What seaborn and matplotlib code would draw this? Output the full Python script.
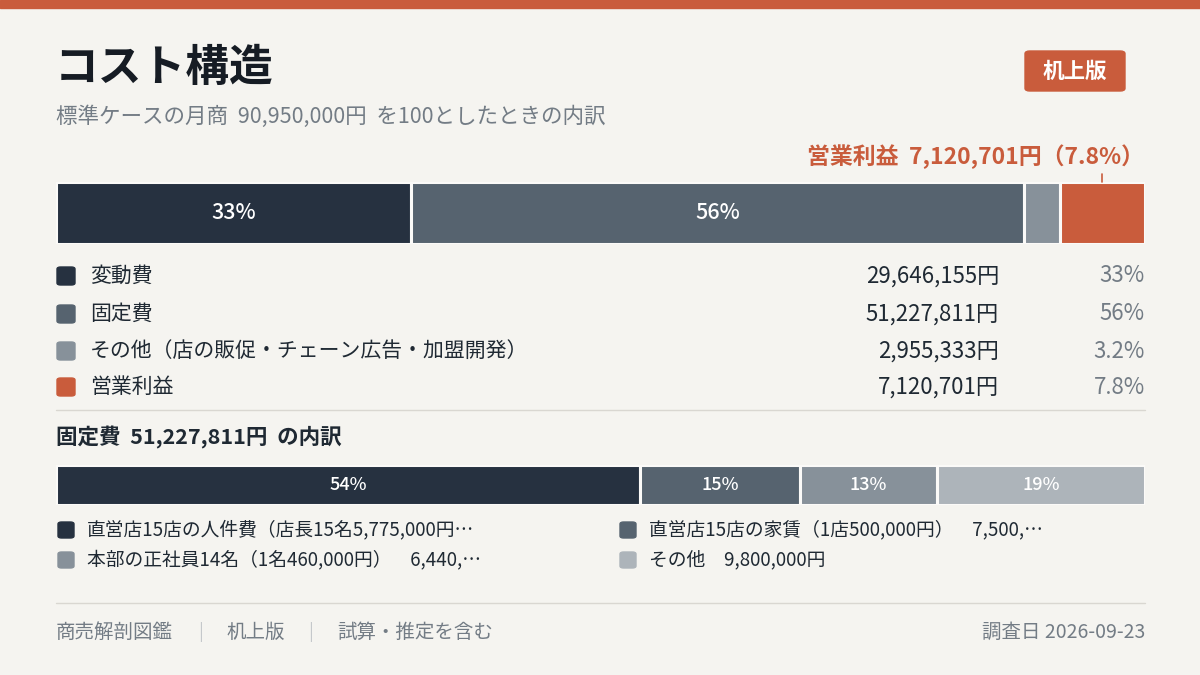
import numpy as np
import pandas as pd
import matplotlib
matplotlib.use("Agg")
import matplotlib.pyplot as plt
import seaborn as sns
from matplotlib.patches import FancyBboxPatch, Rectangle

# --- data ---
sales_total = 90950000
main_labels = ["変動費", "固定費", "その他（店の販促・チェーン広告・加盟開発）", "営業利益"]
main_values = [29646155, 51227811, 2955333, 7120701]
main_colors = ["#263140", "#56636f", "#87919a", "#c95c3c"]

fixed_total = 51227811
sub_labels = ["直営店15店の人件費（店長15名5,775,000円…",
              "直営店15店の家賃（1店500,000円）　7,500,…",
              "本部の正社員14名（1名460,000円）　6,440,…",
              "その他　9,800,000円"]
sub_values = [27487811, 7500000, 6440000, 9800000]
sub_colors = ["#263140", "#56636f", "#87919a", "#adb4ba"]

BG = "#f5f4f0"
ORANGE = "#c95c3c"
DARK = "#1f2933"
GREY = "#737c85"

sns.set_theme(style="white")
plt.rcParams['font.family'] = ['Noto Sans CJK JP', 'DejaVu Sans']

W, H = 1200, 675
fig = plt.figure(figsize=(12, 6.75), dpi=100, facecolor=BG)


def fx(x):
    return x / W


def fy(y):
    return 1 - y / H


def pct(v, tot):
    p = v / tot * 100
    return f"{p:.0f}%" if p >= 10 else f"{p:.1f}%"


def stacked_bar(rect, values, colors, fontsize):
    ax = fig.add_axes(rect)
    total = sum(values)
    left = 0
    for v, c in zip(values, colors):
        sns.barplot(x=[v], y=[0], orient="h", color=c, width=1, left=left,
                    edgecolor="#fbfaf8", linewidth=2.2, saturation=1, ax=ax)
        if v / total >= 0.1:
            ax.text(left + v / 2, 0, pct(v, total), ha="center", va="center",
                    color="white", fontsize=fontsize, fontweight="medium")
        left += v
    ax.set_xlim(0, total)
    ax.set_ylim(0.5, -0.5)
    ax.axis("off")
    return ax


# top band
fig.patches.append(Rectangle((0, fy(8)), 1, 8 / H, transform=fig.transFigure,
                             color=ORANGE, zorder=0))

# title + subtitle
fig.text(fx(55), fy(68), "コスト構造", fontsize=31.5, fontweight="bold",
         color="#161c24", va="center", ha="left")
fig.text(fx(56), fy(117), f"標準ケースの月商  {sales_total:,}円  を100としたときの内訳",
         fontsize=15.5, color=GREY, va="center", ha="left")

# badge
fig.patches.append(FancyBboxPatch((fx(1025), fy(91)), fx(100), 40 / H,
                                  boxstyle="round,pad=0,rounding_size=0.004",
                                  transform=fig.transFigure, color=ORANGE))
fig.text(fx(1075), fy(71), "机上版", fontsize=15.5, fontweight="bold", color="white",
         ha="center", va="center")

# main bar
ax1 = stacked_bar([fx(56), fy(244), fx(1089), 62 / H], main_values, main_colors, 15.5)

# profit callout
profit = main_values[-1]
fig.text(fx(1144), fy(157), f"営業利益  {profit:,}円（{pct(profit, sales_total)}）",
         fontsize=16.5, fontweight="bold", color=ORANGE, ha="right", va="center")
fig.lines.append(plt.Line2D([fx(1102), fx(1102)], [fy(174), fy(182)],
                            transform=fig.transFigure, color=ORANGE, lw=1.2))

# main legend
rows_y = [276, 314, 351, 387]
for lab, v, c, y in zip(main_labels, main_values, main_colors, rows_y):
    fig.patches.append(FancyBboxPatch((fx(57), fy(y + 9)), fx(18), 18 / H,
                                      boxstyle="round,pad=0,rounding_size=0.003",
                                      transform=fig.transFigure, color=c))
    fig.text(fx(90), fy(y), lab, fontsize=15, color=DARK, ha="left", va="center")
    fig.text(fx(999), fy(y), f"{v:,}円", fontsize=16, color=DARK, ha="right", va="center")
    fig.text(fx(1145), fy(y), pct(v, sales_total), fontsize=16, color=GREY,
             ha="right", va="center")

# separator
fig.lines.append(plt.Line2D([fx(56), fx(1145)], [fy(410), fy(410)],
                            transform=fig.transFigure, color="#d9d7d1", lw=1))

# fixed-cost breakdown
fig.text(fx(56), fy(437), f"固定費  {fixed_total:,}円  の内訳", fontsize=15.5,
         fontweight="bold", color=DARK, ha="left", va="center")
ax2 = stacked_bar([fx(56), fy(505), fx(1089), 40 / H], sub_values, sub_colors, 13)

sub_pos = [(66, 530), (628, 530), (66, 560), (628, 560)]
for lab, c, (x, y) in zip(sub_labels, sub_colors, sub_pos):
    fig.patches.append(FancyBboxPatch((fx(x - 8), fy(y + 8)), fx(16), 16 / H,
                                      boxstyle="round,pad=0,rounding_size=0.003",
                                      transform=fig.transFigure, color=c))
    fig.text(fx(x + 21), fy(y), lab, fontsize=13.5, color=DARK, ha="left", va="center")

# footer
fig.lines.append(plt.Line2D([fx(56), fx(1145)], [fy(603), fy(603)],
                            transform=fig.transFigure, color="#d9d7d1", lw=1))
foot_parts = ["商売解剖図鑑", "机上版", "試算・推定を含む"]
fig.text(fx(56), fy(632), foot_parts[0], fontsize=14, color=GREY, va="center")
fig.text(fx(201), fy(632), "|", fontsize=13, color="#c5c8cb", va="center", ha="center")
fig.text(fx(226), fy(632), foot_parts[1], fontsize=14, color=GREY, va="center")
fig.text(fx(311), fy(632), "|", fontsize=13, color="#c5c8cb", va="center", ha="center")
fig.text(fx(337), fy(632), foot_parts[2], fontsize=14, color=GREY, va="center")
fig.text(fx(1145), fy(632), "調査日 2026-09-23", fontsize=14, color=GREY,
         va="center", ha="right")

fig.savefig("out.png", dpi=100, facecolor=BG)
